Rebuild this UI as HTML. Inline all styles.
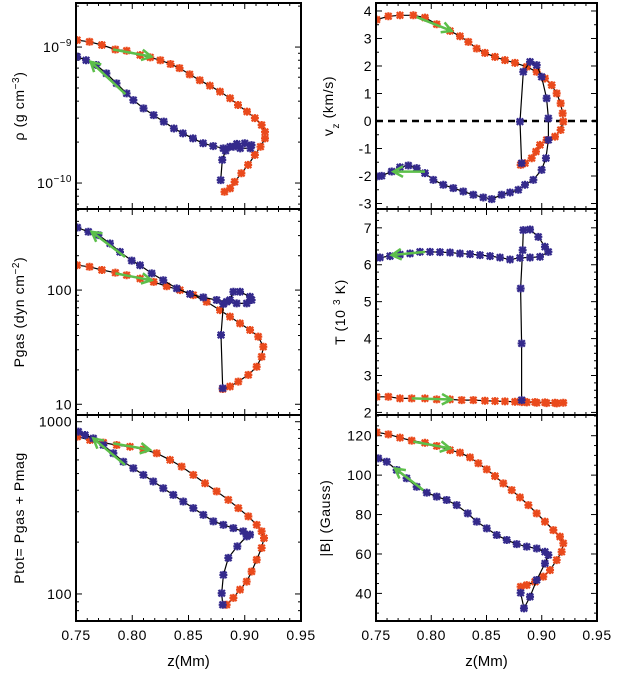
<!DOCTYPE html>
<html><head><meta charset="utf-8"><style>
html,body{margin:0;padding:0;background:#fff;}
svg{display:block;font-family:"Liberation Sans",sans-serif;}
</style></head><body>
<svg id="fig" width="618" height="676" viewBox="0 0 618 676" xmlns="http://www.w3.org/2000/svg"></svg>
<script>
// ---------- data ----------
const xTicks = [0.75,0.80,0.85,0.90,0.95];
const xTickLabels = ["0.75","0.80","0.85","0.90","0.95"];

// rho panel
const rhoOrangeZ = [0.751,0.762,0.773,0.785,0.795,0.807,0.816,0.825,0.834,0.842,0.851,0.860,0.869,0.878,0.887,0.894,0.902,0.909,0.915,0.918,0.918,0.914,0.909,0.903,0.897,0.891,0.887,0.882];
const rhoOrangeV = [1.125e-9,1.094e-9,1.035e-9,0.96e-9,0.94e-9,0.873e-9,0.84e-9,0.80e-9,0.75e-9,0.70e-9,0.63e-9,0.57e-9,0.52e-9,0.47e-9,0.42e-9,0.375e-9,0.335e-9,0.30e-9,0.267e-9,0.238e-9,0.213e-9,0.185e-9,0.161e-9,0.136e-9,0.118e-9,0.102e-9,0.0914e-9,0.0863e-9];
const rhoBlueZ = [0.8786,0.880,0.883,0.887,0.893,0.900,0.906,0.905,0.896,0.890,0.881,0.872,0.863,0.854,0.845,0.837,0.828,0.819,0.810,0.801,0.795,0.786,0.777,0.768,0.759,0.751];
const rhoBlueV = [0.105e-9,0.148e-9,0.173e-9,0.185e-9,0.194e-9,0.196e-9,0.19e-9,0.18e-9,0.18e-9,0.185e-9,0.18e-9,0.187e-9,0.196e-9,0.213e-9,0.232e-9,0.252e-9,0.283e-9,0.316e-9,0.354e-9,0.407e-9,0.456e-9,0.541e-9,0.64e-9,0.738e-9,0.80e-9,0.849e-9];
const rhoArrows = [[0.783,0.96e-9,0.817,0.85e-9],[0.794,0.45e-9,0.763,0.78e-9]];
const rhoTicks = [1e-9,1e-10];

// Pgas panel
const pgOrangeZ = [0.751,0.762,0.773,0.785,0.795,0.807,0.819,0.8306,0.8424,0.8543,0.8661,0.878,0.8869,0.8958,0.9047,0.912,0.9165,0.915,0.9106,0.9032,0.8943,0.8869,0.8804];
const pgOrangeV = [165,160,150,142,135,126,118,108,100,90.4,79,66.8,58.5,51.1,44.7,39.1,31.9,26.1,21.3,18.1,15.8,14.3,13.6];
const pgBlueZ = [0.8804,0.8789,0.881,0.8869,0.8899,0.8958,0.9047,0.9061,0.9017,0.8928,0.8839,0.875,0.8632,0.8513,0.8395,0.8276,0.8173,0.8069,0.7995,0.7891,0.7802,0.7699,0.761,0.7512];
const pgBlueV = [13.8,40.4,75.5,81.8,96.7,96.7,87.4,81.8,76.5,76.5,79,81.8,86.3,92.3,103.4,122,140,165,181,216,256,303,324,353];
const pgArrows = [[0.785,140,0.817,122],[0.7936,195,0.7639,324]];
const pgTicks = [100,10];

// Ptot panel
const ptOrangeZ = [0.7512,0.7624,0.7743,0.7861,0.798,0.8099,0.8217,0.8336,0.8439,0.8543,0.8647,0.875,0.8854,0.8943,0.9032,0.9106,0.915,0.9171,0.915,0.9106,0.9061,0.9017,0.8958,0.8899,0.8839];
const ptOrangeV = [819,783,756,732,716,691,656,600,549,491,439,394,352,315,282,252,231,211,185,158,135,118,106,94.9,86.6];
const ptBlueZ = [0.8804,0.8795,0.881,0.8854,0.8934,0.9017,0.9047,0.8987,0.8899,0.881,0.8721,0.8632,0.8543,0.8454,0.8365,0.8276,0.8187,0.8099,0.801,0.7921,0.7832,0.7743,0.7654,0.758,0.7521];
const ptBlueV = [86.6,101,129,162,189,216,221,231,241,252,264,288,315,344,376,411,450,491,537,586,656,732,800,837,876];
const ptArrows = [[0.7832,749,0.8158,686],[0.7936,561,0.7654,800]];
const ptTicks = [1000,100];

// vz panel
const vzOrangeZ = [0.7506,0.7612,0.7717,0.7838,0.7943,0.8049,0.817,0.826,0.8336,0.8411,0.8486,0.8577,0.8667,0.8758,0.8864,0.8954,0.9029,0.909,0.9135,0.9171,0.9189,0.9195,0.9171,0.912,0.9044,0.8984,0.8948,0.8909,0.8848,0.8809];
const vzOrangeV = [3.686,3.807,3.843,3.843,3.758,3.517,3.275,3.082,2.876,2.634,2.477,2.332,2.211,2.115,1.97,1.789,1.547,1.305,1.003,0.64,0.278,-0.024,-0.326,-0.568,-0.689,-0.87,-1.112,-1.353,-1.535,-1.595];
const vzBlueZ = [0.8818,0.8803,0.8833,0.8894,0.8954,0.8999,0.9044,0.906,0.906,0.9038,0.8999,0.8924,0.8848,0.8788,0.8713,0.8637,0.8547,0.8471,0.8381,0.829,0.82,0.8109,0.8019,0.7943,0.7868,0.7793,0.7717,0.7642,0.7551,0.7506];
const vzBlueV = [-1.535,-0.024,1.789,2.151,2.03,1.607,0.822,0.097,-0.689,-1.353,-1.776,-2.139,-2.32,-2.502,-2.598,-2.683,-2.84,-2.78,-2.683,-2.562,-2.441,-2.32,-2.139,-1.897,-1.716,-1.619,-1.68,-1.837,-1.994,-2.018];
const vzArrows = [[0.7868,3.78,0.8184,3.275],[0.7943,-1.84,0.7657,-1.84]];
const vzTicks = [4,3,2,1,0,-1,-2,-3];

// T panel
const tOrangeZ = [0.7506,0.7612,0.7717,0.7823,0.7943,0.8049,0.817,0.8275,0.8381,0.8486,0.8577,0.8667,0.8758,0.8848,0.8939,0.9029,0.912,0.9195,0.9135,0.9044,0.8954,0.8864,0.8818];
const tOrangeV = [2.424,2.424,2.379,2.379,2.379,2.352,2.352,2.334,2.334,2.316,2.307,2.298,2.289,2.289,2.28,2.271,2.262,2.262,2.244,2.253,2.262,2.271,2.28];
const tBlueZ = [0.8818,0.8818,0.8809,0.8827,0.8833,0.8894,0.8969,0.9029,0.906,0.8984,0.8894,0.8803,0.8713,0.8622,0.8532,0.8441,0.8351,0.826,0.817,0.8079,0.7989,0.7898,0.7808,0.7717,0.7627,0.7536,0.7506];
const tBlueV = [2.334,3.868,5.357,6.395,6.937,6.955,6.756,6.486,6.35,6.215,6.197,6.188,6.143,6.197,6.233,6.26,6.287,6.305,6.332,6.341,6.35,6.35,6.305,6.278,6.233,6.197,6.197];
const tArrows = [[0.7823,2.38,0.8184,2.35],[0.7943,6.35,0.7642,6.26]];
const tTicks = [7,6,5,4,3,2];

// B panel
const bOrangeZ = [0.7506,0.7612,0.7717,0.7823,0.7943,0.8049,0.817,0.826,0.8351,0.8426,0.8502,0.8577,0.8652,0.8728,0.8803,0.8879,0.8954,0.9029,0.9105,0.9165,0.9195,0.918,0.9135,0.9075,0.9014,0.8939,0.8864,0.8809];
const bOrangeV = [121.7,120.7,119,117.5,116.4,114.8,112.7,111.4,109,106,102.9,99.5,95.8,92.4,88.7,84.8,80.6,76.4,72.1,68.8,65.4,61.1,56.9,51.8,48.5,45.9,44.2,43.4];
const bBlueZ = [0.8809,0.8839,0.8894,0.8954,0.9029,0.906,0.9029,0.8954,0.8864,0.8773,0.8683,0.8592,0.8502,0.8411,0.833,0.823,0.8139,0.8049,0.7959,0.7868,0.7777,0.7687,0.7597,0.7521];
const bBlueV = [40.3,32.4,38.3,46.8,55.2,59.5,61.1,62.8,63.7,65,67.1,69.6,73,76.4,80.6,84.8,87.4,89.1,91.1,94.1,98.4,102.6,106.8,108.5];
const bArrows = [[0.7838,117,0.817,113.6],[0.7928,92.4,0.7672,103.4]];
const bTicks = [120,100,80,60,40];

// ---------- drawing ----------
const NS="http://www.w3.org/2000/svg";
const svg=document.getElementById('fig');
const ORANGE="#ea4a1c", BLUE="#342a8c", GREEN="#5cbf4a";
function mk(tag,attrs,parent){const e=document.createElementNS(NS,tag);for(const k in attrs)e.setAttribute(k,attrs[k]);(parent||svg).appendChild(e);return e;}

function panel(cfg){
  const g=mk('g',{});
  
  
  const X=z=>cfg.x0+(z-0.75)/(0.2)*(cfg.x1-cfg.x0);
  const Y=cfg.log?
    v=>cfg.y0+(Math.log10(v)-cfg.vtop)/(cfg.vbot-cfg.vtop)*(cfg.y1-cfg.y0):
    v=>cfg.y0+(v-cfg.vtop)/(cfg.vbot-cfg.vtop)*(cfg.y1-cfg.y0);
  const clipId='c'+cfg.name;
  const cp=mk('clipPath',{id:clipId},g);mk('rect',{x:cfg.x0,y:cfg.y0,width:cfg.x1-cfg.x0,height:cfg.y1-cfg.y0},cp);
  for(let i=0;i<=20;i++){const z=0.75+i*0.01;const x=X(z);const L=(i%5==0)?6:3;
    mk('line',{x1:x,x2:x,y1:cfg.y1,y2:cfg.y1-L,stroke:'#000','stroke-width':1},g);
    mk('line',{x1:x,x2:x,y1:cfg.y0,y2:cfg.y0+L,stroke:'#000','stroke-width':1},g);}
  const ytick=(v,L)=>{const y=Y(v);if(y<cfg.y0-0.5||y>cfg.y1+0.5)return;
    mk('line',{x1:cfg.x0,x2:cfg.x0+L,y1:y,y2:y,stroke:'#000','stroke-width':1},g);
    mk('line',{x1:cfg.x1,x2:cfg.x1-L,y1:y,y2:y,stroke:'#000','stroke-width':1},g);};
  if(cfg.log){for(let d=Math.floor(cfg.vbot)-1;d<=Math.ceil(cfg.vtop)+1;d++){for(let m=1;m<10;m++)ytick(m*Math.pow(10,d),m==1?6:3);}}
  else{for(let v=Math.ceil(cfg.vbot/cfg.minor)*cfg.minor;v<=cfg.vtop;v+=cfg.minor){const maj=Math.abs(v/cfg.major-Math.round(v/cfg.major))<1e-6;ytick(v,maj?6:3);}}
  cfg.ticks.forEach((v,i)=>{const t=mk('text',{x:cfg.x0-4,y:Y(v)+5,'text-anchor':'end','font-size':14,'letter-spacing':0.5,fill:'#000'},g);
    
    
    if(cfg.tickLabels){const tl=cfg.tickLabels[i];t.textContent=tl[0];const s=mk('tspan',{dy:-6,'font-size':10},t);s.textContent=tl[1];}
    else t.textContent=String(v);});
  if(cfg.zero){const l=mk('line',{x1:cfg.x0,x2:cfg.x1,y1:Y(0),y2:Y(0),stroke:'#000','stroke-width':2.5,'stroke-dasharray':'7,5'},g);
    
    }
  const dg=mk('g',{'clip-path':'url(#'+clipId+')'},g);
  const series=(zs,vs,col,nm)=>{
    const pts=zs.map((z,i)=>X(z).toFixed(1)+','+Y(vs[i]).toFixed(1)).join(' ');
    const pl=mk('polyline',{points:pts,fill:'none',stroke:'#000','stroke-width':1.2},dg);
    
    
    zs.forEach((z,i)=>{const x=X(z),y=Y(vs[i]);
      const m=mk('path',{d:`M${x-3.2},${y-3.2}L${x+3.2},${y+3.2}M${x-3.2},${y+3.2}L${x+3.2},${y-3.2}M${x-4},${y}L${x+4},${y}M${x},${y-4}L${x},${y+4}`,stroke:col,'stroke-width':2.2},dg);
      
      });
  };
  series(cfg.oz,cfg.ov,ORANGE,'orange-series');
  series(cfg.bz,cfg.bv,BLUE,'blue-series');
  cfg.arrows.forEach(a=>{const x1=X(a[0]),y1=Y(a[1]),x2=X(a[2]),y2=Y(a[3]);
    const ang=Math.atan2(y2-y1,x2-x1),h=11,sp=0.5;
    const ag=mk('g',{stroke:GREEN,'stroke-width':2.5,fill:'none'},dg);
    
    
    mk('line',{x1:x1,y1:y1,x2:x2,y2:y2},ag);
    mk('polyline',{points:`${x2-h*Math.cos(ang-sp)},${y2-h*Math.sin(ang-sp)} ${x2},${y2} ${x2-h*Math.cos(ang+sp)},${y2-h*Math.sin(ang+sp)}`},ag);});
  const fr=mk('rect',{x:cfg.x0,y:cfg.y0,width:cfg.x1-cfg.x0,height:cfg.y1-cfg.y0,fill:'none',stroke:'#000','stroke-width':2},g);
  
  
  if(cfg.bottom){xTicks.forEach((z,i)=>{const t=mk('text',{x:X(z),y:640,'text-anchor':'middle','font-size':14,'letter-spacing':0.5},g);t.textContent=xTickLabels[i];
      
      });
    const xt=mk('text',{x:(cfg.x0+cfg.x1)/2,y:666,'text-anchor':'middle','font-size':15},g);xt.textContent='z(Mm)';
    
    }
  const cy=(cfg.y0+cfg.y1)/2;
  const yt=mk('text',{x:cfg.titleX,y:cy,'text-anchor':'middle','font-size':14,'letter-spacing':0.6,transform:`rotate(-90 ${cfg.titleX} ${cy})`},g);
  
  
  cfg.title.forEach(p=>{const s=mk('tspan',p[1]?{'baseline-shift':p[1],'font-size':10}:{},yt);s.textContent=p[0];});
}

const L0=76,L1=301,R0=376,R1=597,r=[3,209,415,621];
panel({name:'rho-panel',x0:L0,x1:L1,y0:r[0],y1:r[1],log:true,vtop:-8.676,vbot:-10.191,ticks:rhoTicks,tickLabels:[["10","−9"],["10","−10"]],
  oz:rhoOrangeZ,ov:rhoOrangeV,bz:rhoBlueZ,bv:rhoBlueV,arrows:rhoArrows,titleX:24,title:[["ρ  (g  cm"],["−3","super"],[")"]]});
panel({name:'pgas-panel',x0:L0,x1:L1,y0:r[1],y1:r[2],log:true,vtop:2.71,vbot:0.906,ticks:pgTicks,
  oz:pgOrangeZ,ov:pgOrangeV,bz:pgBlueZ,bv:pgBlueV,arrows:pgArrows,titleX:24,title:[["Pgas  (dyn  cm"],["−2","super"],[")"]]});
panel({name:'ptot-panel',x0:L0,x1:L1,y0:r[2],y1:r[3],log:true,vtop:3.039,vbot:1.843,ticks:ptTicks,bottom:true,
  oz:ptOrangeZ,ov:ptOrangeV,bz:ptBlueZ,bv:ptBlueV,arrows:ptArrows,titleX:24,title:[["Ptot=  Pgas  +  Pmag"]]});
panel({name:'vz-panel',x0:R0,x1:R1,y0:r[0],y1:r[1],log:false,vtop:4.29,vbot:-3.2,major:1,minor:0.5,ticks:vzTicks,zero:true,
  oz:vzOrangeZ,ov:vzOrangeV,bz:vzBlueZ,bv:vzBlueV,arrows:vzArrows,titleX:333,title:[["v"],["z","sub"],["  (km/s)"]]});
panel({name:'temperature-panel',x0:R0,x1:R1,y0:r[1],y1:r[2],log:false,vtop:7.51,vbot:1.93,major:1,minor:0.2,ticks:tTicks,
  oz:tOrangeZ,ov:tOrangeV,bz:tBlueZ,bv:tBlueV,arrows:tArrows,titleX:345,title:[["T  (10 "],["3","super"],["  K)"]]});
panel({name:'bfield-panel',x0:R0,x1:R1,y0:r[2],y1:r[3],log:false,vtop:130.5,vbot:26,major:20,minor:5,ticks:bTicks,bottom:true,
  oz:bOrangeZ,ov:bOrangeV,bz:bBlueZ,bv:bBlueV,arrows:bArrows,titleX:330,title:[["|B|  (Gauss)"]]});
</script>
</body></html>
